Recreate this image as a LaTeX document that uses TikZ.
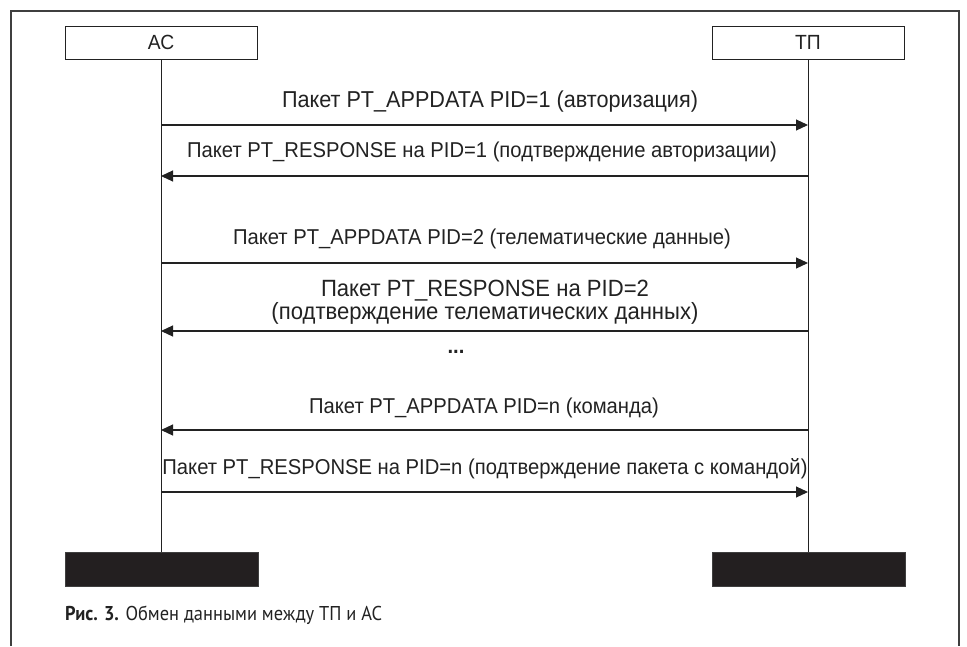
\documentclass[tikz,border=0pt]{standalone}
\usepackage{fontspec}
\setmainfont{Liberation Sans}
\newfontfamily\msgfont[FakeStretch=0.94]{Liberation Sans}
\newfontfamily\capfont[FakeStretch=0.92]{PT Sans}
\usetikzlibrary{arrows.meta}
\definecolor{ink}{HTML}{222222}
\definecolor{framec}{HTML}{3F3F3F}
\definecolor{blk}{HTML}{231F20}
\tikzset{
  actor/.style={draw=ink, line width=1pt, fill=white, minimum width=192pt, minimum height=33pt, inner sep=0pt, font=\msgfont\fontsize{20.5}{22}\selectfont, text=ink},
  endbox/.style={draw=framec, line width=0.8pt, fill=blk, minimum width=193pt, minimum height=34pt, inner sep=0pt},
  life/.style={draw=ink, line width=1pt},
  msg/.style={draw=ink, line width=1.1pt, -{Triangle[length=12pt,width=11pt]}},
  lbl/.style={inner sep=0pt, font=\msgfont\fontsize{21.5}{19}\selectfont, align=center, text=ink},
}
\begin{document}
\begin{tikzpicture}[x=1pt,y=-1pt]
\useasboundingbox (0,0) rectangle (967,646);
\fill[white] (0,0) rectangle (967,646);
\draw[framec, line width=1.2pt] (11,646) -- (11,11) -- (959,11) -- (959,646);

\node[actor] (ac) at (161,42.5) {АС};
\node[actor] (tp) at (808,42.5) {ТП};
\node[endbox] (acend) at (161.5,569) {};
\node[endbox] (tpend) at (808.5,569) {};
\draw[life] (ac.south) -- (ac.south |- acend.north);
\draw[life] (tp.south) -- (tp.south |- tpend.north);

\coordinate (l1) at (ac.south |- 0,125);  \coordinate (r1) at (tp.south |- 0,125);
\coordinate (l2) at (ac.south |- 0,176);  \coordinate (r2) at (tp.south |- 0,176);
\coordinate (l3) at (ac.south |- 0,263);  \coordinate (r3) at (tp.south |- 0,263);
\coordinate (l4) at (ac.south |- 0,331);  \coordinate (r4) at (tp.south |- 0,331);
\coordinate (l5) at (ac.south |- 0,430);  \coordinate (r5) at (tp.south |- 0,430);
\coordinate (l6) at (ac.south |- 0,492);  \coordinate (r6) at (tp.south |- 0,492);

\draw[msg] (l1) -- (r1);
\draw[msg] (r2) -- (l2);
\draw[msg] (l3) -- (r3);
\draw[msg] (r4) -- (l4);
\draw[msg] (r5) -- (l5);
\draw[msg] (l6) -- (r6);

\node[lbl, font=\msgfont\fontsize{23}{19}\selectfont] (t1) at (490,102) {Пакет PT\_APPDATA PID=1 (авторизация)};
\node[lbl] (t2) at (482,152) {Пакет PT\_RESPONSE на PID=1 (подтверждение авторизации)};
\node[lbl] (t3) at (482,239) {Пакет PT\_APPDATA PID=2 (телематические данные)};
\node[lbl, font=\msgfont\fontsize{23.5}{19}\selectfont] (t4) at (485,302) {Пакет PT\_RESPONSE на PID=2\\(подтверждение телематических данных)};
\node[lbl, font=\msgfont\bfseries\fontsize{21.5}{19}\selectfont] (dots) at (456,352) {...};
\node[lbl] (t5) at (484,408) {Пакет PT\_APPDATA PID=n (команда)};
\node[lbl] (t6) at (485,469) {Пакет PT\_RESPONSE на PID=n (подтверждение пакета с командой)};

\node[anchor=base west, inner sep=0pt, font=\capfont\fontsize{20}{22}\selectfont, text=ink] (cap) at (65,620) {\textbf{Рис. 3.} Обмен данными между ТП и АС};
\end{tikzpicture}
\end{document}
